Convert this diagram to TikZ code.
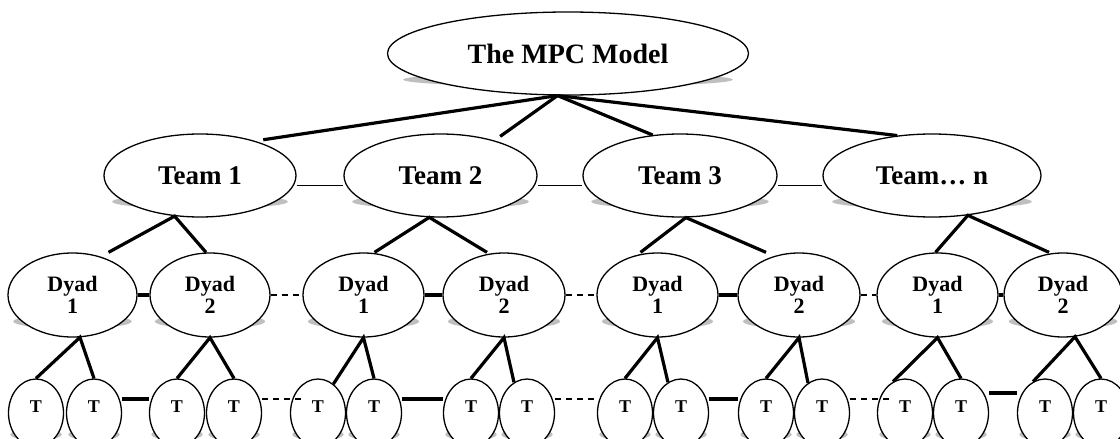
\documentclass[tikz,border=0pt]{standalone}
\usepackage{fontspec}
\setmainfont{Liberation Serif}
\usetikzlibrary{shapes.geometric,calc,backgrounds}

\begin{document}
\begin{tikzpicture}[x=1pt, y=-1pt,
  bubble/.style={ellipse, draw, line width=1.3pt, fill=white, inner sep=0pt},
  modelbox/.style={bubble, minimum width=361pt, minimum height=83pt, font=\bfseries\fontsize{28pt}{28pt}\selectfont},
  team/.style={bubble, minimum height=83pt, font=\bfseries\fontsize{27pt}{27pt}\selectfont},
  dyad/.style={bubble, minimum height=84pt, align=center, font=\bfseries\fontsize{22pt}{22pt}\selectfont},
  member/.style={bubble, minimum width=55pt, minimum height=68pt, text height=12pt, text depth=14pt, font=\bfseries\fontsize{18pt}{18pt}\selectfont},
  branch/.style={line width=3.2pt},
  teamlink/.style={line width=1.6pt},
  pairlink/.style={line width=4pt},
  gaplink/.style={line width=1.8pt, dash pattern=on 6pt off 5pt},
  ]
\useasboundingbox (0,0) rectangle (1120,439);

% Model
\node[modelbox] (mpc) at (568,53.5) {The MPC Model};

% Teams
\node[team, minimum width=192pt] (team1) at (200,175.5) {Team 1};
\node[team, minimum width=193pt] (team2) at (440.5,175.5) {Team 2};
\node[team, minimum width=194pt] (team3) at (680,175.5) {Team 3};
\node[team, minimum width=218pt] (teamn) at (932,175.5) {Team… n};

% Dyads
\node[dyad, minimum width=129pt] (d11) at (72.5,295) {Dyad\\1};
\node[dyad, minimum width=120pt] (d12) at (210,295) {Dyad\\2};
\node[dyad, minimum width=121pt] (d21) at (363.5,295) {Dyad\\1};
\node[dyad, minimum width=122pt] (d22) at (504,295) {Dyad\\2};
\node[dyad, minimum width=121pt] (d31) at (657.5,295) {Dyad\\1};
\node[dyad, minimum width=122pt] (d32) at (799,295) {Dyad\\2};
\node[dyad, minimum width=121pt] (dn1) at (937.5,295) {Dyad\\1};
\node[dyad, minimum width=118pt] (dn2) at (1063,295) {Dyad\\2};

% Team members
\foreach \i/\x in {1/36,2/94,3/177,4/234,5/318,6/374,7/471,8/527,
                   9/625,10/681,11/766,12/822,13/905,14/961,15/1045,16/1101}
  \node[member] (t\i) at (\x,413) {T};

% Shadows
\begin{scope}[on background layer]
\foreach \nm in {mpc,team1,team2,team3,teamn,d11,d12,d21,d22,d31,d32,dn1,dn2,
                 t1,t2,t3,t4,t5,t6,t7,t8,t9,t10,t11,t12,t13,t14,t15,t16}
  \fill[gray!50] let \p1=($(\nm.east)-(\nm.center)$), \p2=($(\nm.center)-(\nm.south)$) in
    ($(\nm.center)!0.62!(\nm.south)$) ellipse ({0.91*\x1} and {0.17*\y2});
\end{scope}

% Model to teams
\draw[branch, shorten >=8pt] (mpc.256) -- (team1.32);
\draw[branch, shorten >=7pt] (mpc.256) -- (team2.33);
\draw[branch] (mpc.256) -- (team3.124);
\draw[branch] (mpc.256) -- (teamn.131);

% Teams side by side
\draw[teamlink] ([yshift=-10pt]team1.east) -- ([yshift=-10pt]team2.west);
\draw[teamlink] ([yshift=-10pt]team2.east) -- ([yshift=-10pt]team3.west);
\draw[teamlink] ([yshift=-10pt]team3.east) -- ([yshift=-10pt]teamn.west);

% Teams to dyads
\draw[branch] ($(d11.north)+(36,0)$) -- (team1.238) -- ($(d12.north)+(-4,0)$);
\draw[branch] ($(d21.north)+(11,0)$) -- (team2.255) -- ($(d22.north)+(-17,0)$);
\draw[branch] ($(d31.north)+(-17,0)$) -- (team3.278) -- ($(d32.north)+(-33,0)$);
\draw[branch] ($(dn1.north)+(-2,0)$) -- (teamn.312) -- ($(dn2.north)+(-14,0)$);

% Dyads side by side
\draw[pairlink] (d11.east) -- (d12.west);
\draw[gaplink] (d12.east) -- (d21.west);
\draw[pairlink] (d21.east) -- (d22.west);
\draw[gaplink] (d22.east) -- (d31.west);
\draw[pairlink] (d31.east) -- (d32.west);
\draw[gaplink] (d32.east) -- (dn1.west);
\draw[pairlink] (dn1.east) -- (dn2.west);

% Dyads to members
\draw[branch] (t1.north) -- (d11.280) -- (t2.north);
\draw[branch] (t3.north) -- (d12.south) -- (t4.north);
\draw[branch] (t5.62) -- (d21.south) -- (t6.north);
\draw[branch] (t7.north) -- (d22.south) -- (t8.113);
\draw[branch] (t9.north) -- (d31.south) -- (t10.113);
\draw[branch] (t11.north) -- (d32.south) -- (t12.115);
\draw[branch] (t13.111) -- (dn1.south) -- (t14.north);
\draw[branch] (t15.111) -- (dn2.286) -- (t16.north);

% Members side by side
\draw[pairlink] ([yshift=14pt]t2.east) -- ([yshift=14pt]t3.west);
\draw[gaplink] ([yshift=14pt]t4.east) -- ([xshift=15pt,yshift=14pt]t5.west);
\draw[pairlink] ([yshift=14pt]t6.east) -- ([yshift=14pt]t7.west);
\draw[gaplink] ([yshift=14pt]t8.east) -- ([yshift=14pt]t9.west);
\draw[pairlink] ([yshift=14pt]t10.east) -- ([yshift=14pt]t11.west);
\draw[gaplink] ([yshift=14pt]t12.east) -- ([xshift=15pt,yshift=14pt]t13.west);
\draw[pairlink] ([yshift=20pt]t14.east) -- ([yshift=20pt]t15.west);
\end{tikzpicture}
\end{document}
